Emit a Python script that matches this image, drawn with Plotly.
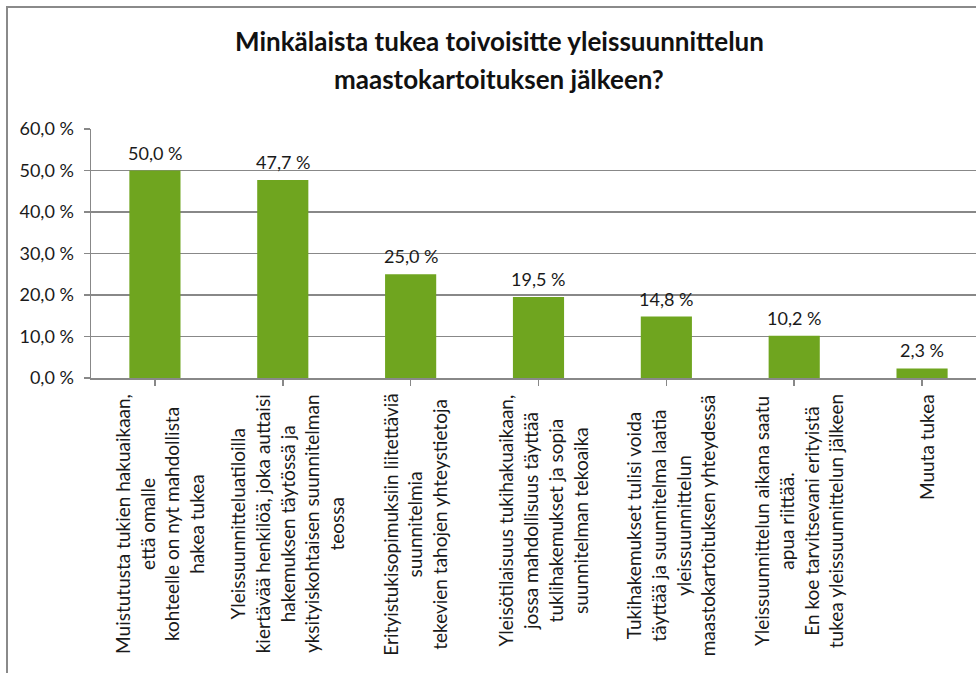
import plotly.graph_objects as go

categories = [
    ["Muistutusta tukien hakuaikaan,", "että omalle", "kohteelle on nyt mahdollista", "hakea tukea"],
    ["Yleissuunnitteluatiloilla", "kiertävää henkilöä, joka auttaisi", "hakemuksen täytössä ja", "yksityiskohtaisen suunnitelman", "teossa"],
    ["Erityistukisopimuksiin liitettäviä", "suunnitelmia", "tekevien tahojen yhteystietoja"],
    ["Yleisötilaisuus tukihakuaikaan,", "jossa mahdollisuus täyttää", "tuklihakemukset ja sopia", "suunnitelman tekoaika"],
    ["Tukihakemukset tulisi voida", "täyttää ja suunnitelma laatia", "yleissuunnittelun", "maastokartoituksen yhteydessä"],
    ["Yleissuunnittelun aikana saatu", "apua riittää.", "En koe tarvitsevani erityistä", "tukea yleissuunnittelun jälkeen"],
    ["Muuta tukea"],
]
values = [50.0, 47.7, 25.0, 19.5, 14.8, 10.2, 2.3]
value_labels = ["50,0 %", "47,7 %", "25,0 %", "19,5 %", "14,8 %", "10,2 %", "2,3 %"]
y_ticks = [0, 10, 20, 30, 40, 50, 60]
y_tick_labels = ["0,0 %", "10,0 %", "20,0 %", "30,0 %", "40,0 %", "50,0 %", "60,0 %"]
title_lines = ["Minkälaista tukea toivoisitte yleissuunnittelun", "maastokartoituksen jälkeen?"]

FONT = "Lato"
FS = 18
GRID = "#888888"
x_idx = list(range(len(values)))

fig = go.Figure(go.Bar(
    x=x_idx, y=values, width=0.4,
    marker=dict(color="#6fa51f", line=dict(width=0)),
    hoverinfo="skip",
))

# value labels above bars
for i, (v, lab) in enumerate(zip(values, value_labels)):
    fig.add_annotation(
        x=i, y=v, xref="x", yref="y", text=lab, showarrow=False,
        xanchor="center", yanchor="bottom", yshift=5,
        font=dict(family=FONT, size=FS, color="#1a1a1a"),
    )

W, H = 976, 673
L, T, B = 91, 129, 295
fig.update_layout(
    width=W, height=H,
    margin=dict(l=L, r=0, t=T, b=B, autoexpand=False),
    paper_bgcolor="white", plot_bgcolor="white",
    showlegend=False,
    font=dict(family=FONT, size=FS, color="#1a1a1a"),
)
fig.update_xaxes(
    range=[-0.5, len(values) - 0.5 - 10 / 128], tickmode="array", tickvals=x_idx,
    showticklabels=False, ticks="outside", tickson="boundaries", ticklen=6,
    tickcolor=GRID, tickwidth=1.5, showline=True, linecolor=GRID, linewidth=1.5,
    showgrid=False, zeroline=False, fixedrange=True,
)
fig.update_yaxes(
    range=[0, 60], tickmode="array", tickvals=y_ticks, ticktext=y_tick_labels,
    ticks="outside", ticklen=6, tickcolor=GRID, tickwidth=1.5, ticklabelstandoff=6,
    showline=True, linecolor=GRID, linewidth=1.5,
    showgrid=True, gridcolor=GRID, gridwidth=1.5, zeroline=False,
    tickfont=dict(family=FONT, size=FS, color="#1a1a1a"), fixedrange=True,
)

# category labels: rotated, each line centred, placed below the axis
for i, lines in enumerate(categories):
    fig.add_annotation(
        x=i, y=0, xref="x", yref="paper",
        text="<br>".join(lines), textangle=-90, align="center",
        xanchor="center", yanchor="top", xshift=4, yshift=-14,
        showarrow=False, font=dict(family=FONT, size=19, color="#1a1a1a"),
    )

# title lines
pw = W - L
ph = H - T - B
title_y = [41, 79]
for txt, yy in zip(title_lines, title_y):
    fig.add_annotation(
        x=(499 - L) / pw, y=(H - B - yy) / ph, xref="paper", yref="paper",
        text="<b>" + txt + "</b>", showarrow=False, xanchor="center", yanchor="middle",
        font=dict(family=FONT, size=26, color="#111111"),
    )

# chart-area frame (left and top edges visible)
fig.add_shape(
    type="rect", xref="paper", yref="paper",
    x0=(7 - L) / pw, x1=(W + 20 - L) / pw,
    y0=(H - B - (H + 20)) / ph, y1=(H - B - 7) / ph,
    line=dict(color="#8a8a8a", width=2), fillcolor="rgba(0,0,0,0)", layer="below",
)

fig.write_html(
    "out.html",
    config={"displayModeBar": False, "staticPlot": True},
    post_script="document.body.style.margin='0';document.body.style.overflow='hidden';",
)
